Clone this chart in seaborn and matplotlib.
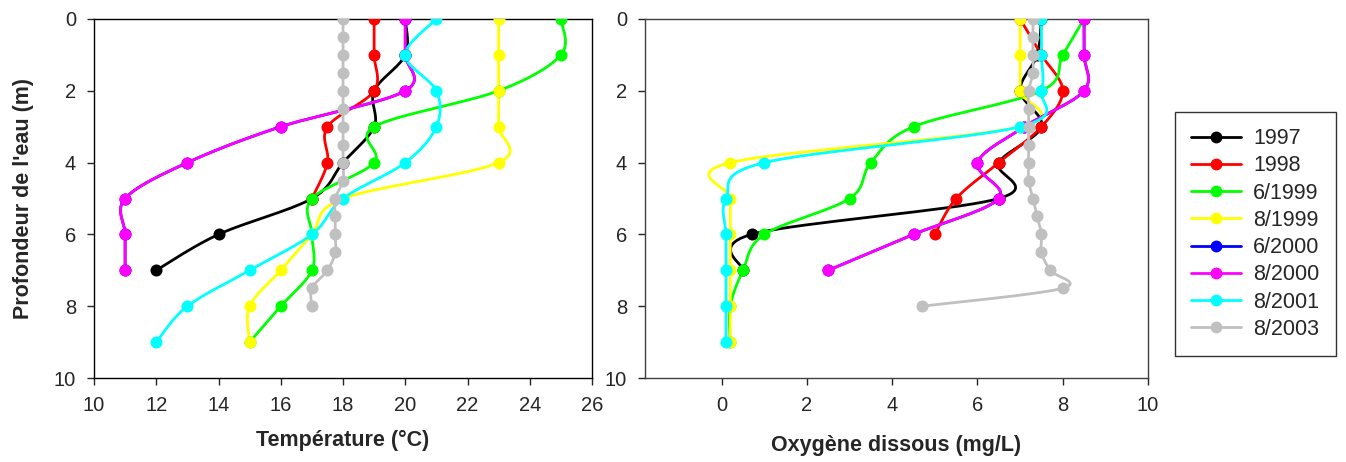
import numpy as np
import pandas as pd
import matplotlib
matplotlib.use("Agg")
import matplotlib.pyplot as plt
from matplotlib.lines import Line2D
import seaborn as sns

sns.set_style("white")
plt.rcParams['font.family'] = ['Liberation Sans', 'DejaVu Sans']

series = ["1997", "1998", "6/1999", "8/1999", "6/2000", "8/2000", "8/2001", "8/2003"]
colors = ["#000000", "#FF0000", "#00FF00", "#FFFF00", "#0000FF", "#FF00FF", "#00FFFF", "#C0C0C0"]

# profondeur (m) et temperature (degC)
depth_7 = [0, 1, 2, 3, 4, 5, 6, 7]
depth_5 = [0, 1, 2, 3, 4, 5]
depth_6 = [0, 1, 2, 3, 4, 5, 6]
depth_9 = [0, 1, 2, 3, 4, 5, 6, 7, 8, 9]
depth_03 = [0, 0.5, 1, 1.5, 2, 2.5, 3, 3.5, 4, 4.5, 5, 5.5, 6, 6.5, 7, 7.5, 8]

temp_1997 = [20, 20, 19, 19, 18, 17, 14, 12]
temp_1998 = [19, 19, 19, 17.5, 17.5, 17]
temp_6_1999 = [25, 25, 23, 19, 19, 17, 17, 17, 16, 15]
temp_8_1999 = [23, 23, 23, 23, 23, 18, 17, 16, 15, 15]
temp_6_2000 = [20, 20, 20, 16, 13, 11, 11, 11]
temp_8_2000 = [20, 20, 20, 16, 13, 11, 11, 11]
temp_8_2001 = [21, 20, 21, 21, 20, 18, 17, 15, 13, 12]
temp_8_2003 = [18, 18, 18, 18, 18, 18, 18, 18, 18, 18, 17.75, 17.75, 17.75, 17.75, 17.5, 17, 17]

# oxygene dissous (mg/L)
oxy_1997 = [7.5, 7.4, 7.0, 7.5, 6.5, 6.5, 0.7, 0.5]
oxy_1998 = [7.0, 7.5, 8.0, 7.5, 6.5, 5.5, 5.0]
oxy_6_1999 = [8.5, 8.0, 7.5, 4.5, 3.5, 3.0, 1.0, 0.5, 0.2, 0.2]
oxy_8_1999 = [7.0, 7.0, 7.0, 7.0, 0.2, 0.2, 0.2, 0.2, 0.2, 0.2]
oxy_6_2000 = [8.5, 8.5, 8.5, 7.1, 6.0, 6.5, 4.5, 2.5]
oxy_8_2000 = [8.5, 8.5, 8.5, 7.1, 6.0, 6.5, 4.5, 2.5]
oxy_8_2001 = [7.5, 7.5, 7.5, 7.0, 1.0, 0.1, 0.1, 0.1, 0.1, 0.1]
oxy_8_2003 = [7.3, 7.3, 7.3, 7.3, 7.2, 7.2, 7.2, 7.2, 7.2, 7.2, 7.3, 7.4, 7.5, 7.5, 7.7, 8.0, 4.7]

temp_data = [(temp_1997, depth_7), (temp_1998, depth_5), (temp_6_1999, depth_9),
             (temp_8_1999, depth_9), (temp_6_2000, depth_7), (temp_8_2000, depth_7),
             (temp_8_2001, depth_9), (temp_8_2003, depth_03)]
oxy_data = [(oxy_1997, depth_7), (oxy_1998, depth_6), (oxy_6_1999, depth_9),
            (oxy_8_1999, depth_9), (oxy_6_2000, depth_7), (oxy_8_2000, depth_7),
            (oxy_8_2001, depth_9), (oxy_8_2003, depth_03)]


def smooth(x, y, sx, sy, n=20):
    # courbe lissee facon Excel (Catmull-Rom / Bezier) calculee en pixels
    p = np.column_stack([np.asarray(x, float) * sx, np.asarray(y, float) * sy])
    p = np.vstack([p[0], p, p[-1]])
    out = []
    t = np.linspace(0, 1, n)[:, None]
    for i in range(1, len(p) - 2):
        p0, p1, p2, p3 = p[i - 1], p[i], p[i + 1], p[i + 2]
        c1 = p1 + (p2 - p0) / 6
        c2 = p2 - (p3 - p1) / 6
        seg = (1 - t) ** 3 * p1 + 3 * (1 - t) ** 2 * t * c1 + 3 * (1 - t) * t ** 2 * c2 + t ** 3 * p2
        out.append(seg)
    out = np.vstack(out)
    return out[:, 0] / sx, out[:, 1] / sy


fig = plt.figure(figsize=(13.46, 4.62), dpi=100)
ax1 = fig.add_axes([94 / 1346, 84 / 462, 498 / 1346, 359 / 462])
ax2 = fig.add_axes([645 / 1346, 84 / 462, 503 / 1346, 359 / 462])

panels = [(ax1, temp_data, (10, 26), [10, 12, 14, 16, 18, 20, 22, 24, 26], "Température (°C)", 430),
          (ax2, oxy_data, (-1.8, 10), [0, 2, 4, 6, 8, 10], "Oxygène dissous (mg/L)", 435)]

for ax, data, xlim, xticks, xlabel, label_top in panels:
    sx = ax.get_position().width * 1346 / (xlim[1] - xlim[0])
    sy = 359 / 10
    for (xv, yv), name, col in zip(data, series, colors):
        xs, ys = smooth(xv, yv, sx, sy)
        sns.lineplot(x=xs, y=ys, sort=False, estimator=None, color=col, lw=2.0, ax=ax)
        sns.scatterplot(x=xv, y=yv, color=col, s=75, edgecolor=col, linewidth=0, ax=ax, zorder=3)
    ax.set_xlim(*xlim)
    ax.set_ylim(10, 0)
    ax.set_xticks(xticks)
    ax.set_yticks([0, 2, 4, 6, 8, 10])
    ax.tick_params(axis='both', direction='out', length=5, width=1, labelsize=14.5, pad=8,
                   bottom=True, left=True)
    ax.set_xlabel(xlabel, fontsize=15.5, fontweight='bold')
    ax.xaxis.set_label_coords(0.5, -(label_top - 378) / 359)
    for s in ax.spines.values():
        s.set_color('black')
        s.set_linewidth(1)

ax1.set_ylabel("Profondeur de l'eau (m)", fontsize=15.5, fontweight='bold')
ax1.yaxis.set_label_coords((34 - 94) / 498, 0.5)
for s in ax2.spines.values():
    s.set_color('#404040')

handles = [Line2D([0], [0], color=c, lw=2, marker='o', markersize=7.5) for c in colors]
leg = fig.legend(handles, series, loc='upper left', bbox_to_anchor=(1175 / 1346, 1 - 112 / 462),
                 fontsize=15.5, frameon=True, fancybox=False, edgecolor='black',
                 handlelength=2.33, handletextpad=0.56, labelspacing=0.29,
                 borderpad=0.75, borderaxespad=0)
leg.get_frame().set_linewidth(1)

fig.savefig("out.png", dpi=100)
